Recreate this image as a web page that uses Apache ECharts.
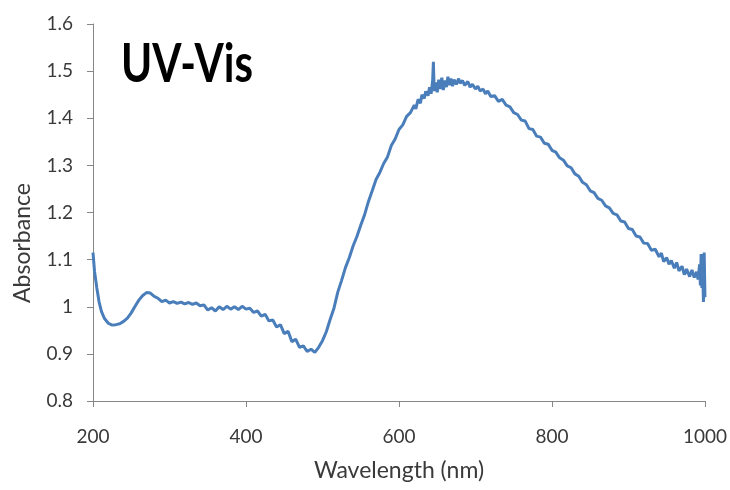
<!DOCTYPE html>
<html>
<head>
<meta charset="utf-8">
<script src="https://cdn.jsdelivr.net/npm/echarts@6/dist/echarts.min.js"></script>
<style>
  html, body { margin: 0; padding: 0; background: #fff; }
  #chart { width: 730px; height: 490px; }
</style>
</head>
<body>
<div id="chart"></div>
<script>
// [wavelength nm, absorbance]
const uvRegion = [
  [200, 1.115], [202, 1.075], [205, 1.04], [208, 1.01], [211, 0.99], [215, 0.975],
  [220, 0.965], [225, 0.961], [230, 0.962], [235, 0.964], [240, 0.969], [245, 0.976],
  [250, 0.987], [255, 1.001], [260, 1.014], [265, 1.024], [270, 1.030], [275, 1.029],
  [280, 1.022]
]
const shoulderRegion = [
  [285, 1.018], [290, 1.011], [295, 1.014], [300, 1.008], [305, 1.011], [310, 1.007],
  [315, 1.010], [320, 1.006], [325, 1.009], [330, 1.005], [335, 1.008], [340, 1.002],
  [345, 1.004], [350, 0.993], [355, 0.998], [360, 0.991], [365, 1.000], [370, 0.994],
  [375, 1.001], [380, 0.995], [385, 1.000], [390, 0.994], [395, 1.001], [400, 0.995],
  [405, 0.997], [410, 0.988], [415, 0.991], [420, 0.980], [425, 0.984], [430, 0.970],
  [435, 0.972], [440, 0.957], [445, 0.962], [450, 0.943], [455, 0.948], [460, 0.926],
  [465, 0.931], [470, 0.914], [475, 0.917], [480, 0.905], [485, 0.910], [490, 0.903],
  [495, 0.914]
]
const riseRegion = [
  [500, 0.928], [505, 0.947], [510, 0.973], [515, 0.997], [520, 1.031], [525, 1.056],
  [530, 1.083], [535, 1.104], [540, 1.129], [545, 1.149], [550, 1.173], [555, 1.195],
  [560, 1.223], [565, 1.246], [570, 1.270], [575, 1.285], [580, 1.304], [585, 1.318],
  [590, 1.342], [595, 1.356], [600, 1.376], [605, 1.386], [610, 1.404], [615, 1.412],
  [620, 1.428]
]
const peakRegion = [
  [622, 1.420], [625, 1.440], [628, 1.432], [630, 1.450], [633, 1.442], [635, 1.457],
  [638, 1.448], [640, 1.466], [642, 1.452], [644, 1.480], [645, 1.520], [646, 1.458],
  [648, 1.476], [650, 1.455], [652, 1.482], [654, 1.462], [656, 1.486], [658, 1.460],
  [660, 1.480], [662, 1.466], [664, 1.488], [666, 1.470], [668, 1.484], [670, 1.468],
  [672, 1.482], [675, 1.472], [678, 1.484], [680, 1.474], [683, 1.480], [686, 1.470],
  [690, 1.478], [693, 1.466], [696, 1.472], [700, 1.462], [703, 1.468], [706, 1.458],
  [710, 1.462], [713, 1.452], [716, 1.458], [720, 1.446]
]
const tailRegion = [
  [725, 1.448], [730, 1.436], [735, 1.440], [740, 1.428], [745, 1.424], [750, 1.412],
  [755, 1.408], [760, 1.396], [765, 1.394], [770, 1.378], [775, 1.376], [780, 1.362],
  [785, 1.360], [790, 1.347], [795, 1.345], [800, 1.332], [805, 1.328], [810, 1.316],
  [815, 1.311], [820, 1.299], [825, 1.295], [830, 1.282], [835, 1.277], [840, 1.264],
  [845, 1.259], [850, 1.246], [855, 1.242], [860, 1.230], [865, 1.226], [870, 1.214],
  [875, 1.210], [880, 1.198], [885, 1.195], [890, 1.182], [895, 1.180], [900, 1.166],
  [905, 1.164], [910, 1.150], [915, 1.148], [920, 1.135], [925, 1.134], [930, 1.120],
  [935, 1.122], [940, 1.106], [943, 1.114], [946, 1.096], [950, 1.104], [953, 1.090],
  [956, 1.098], [960, 1.082], [963, 1.094], [966, 1.076], [970, 1.086], [973, 1.068],
  [976, 1.080], [980, 1.064], [983, 1.078], [986, 1.062], [989, 1.074], [991, 1.058],
  [993, 1.090], [994, 1.045], [995, 1.112], [996, 1.040], [997, 1.080], [998, 1.010],
  [999, 1.115], [1000, 1.02]
]
const xTicks = [200, 400, 600, 800, 1000]
const yTicks = [0.8, 0.9, 1, 1.1, 1.2, 1.3, 1.4, 1.5, 1.6]

const spectrum = [].concat(uvRegion, shoulderRegion, riseRegion, peakRegion, tailRegion)

const font = 'Lato, "Open Sans", sans-serif'
const axisGray = '#868686'
const textColor = '#3a3a3a'

const chart = echarts.init(document.getElementById('chart'), null, { renderer: 'canvas' })

chart.setOption({
  animation: false,
  backgroundColor: '#fff',
  grid: { left: 93, right: 23, top: 24, bottom: 89 },
  xAxis: {
    type: 'value',
    min: xTicks[0],
    max: xTicks[xTicks.length - 1],
    interval: xTicks[1] - xTicks[0],
    name: 'Wavelength (nm)',
    nameLocation: 'middle',
    nameGap: 58,
    nameTextStyle: { fontFamily: font, fontSize: 23, color: textColor },
    axisLine: { lineStyle: { color: axisGray, width: 1 } },
    axisTick: { show: true, length: 6, lineStyle: { color: axisGray } },
    axisLabel: {
      margin: 26,
      fontFamily: font,
      fontSize: 19,
      color: textColor,
      formatter: v => String(v)
    },
    splitLine: { show: false }
  },
  yAxis: {
    type: 'value',
    min: yTicks[0],
    max: yTicks[yTicks.length - 1],
    interval: 0.1,
    axisLine: { show: true, lineStyle: { color: axisGray, width: 1 } },
    axisTick: { show: true, length: 6, lineStyle: { color: axisGray } },
    axisLabel: {
      margin: 20,
      fontFamily: font,
      fontSize: 19,
      color: textColor,
      formatter: v => String(Math.round(v * 10) / 10)
    },
    splitLine: { show: false }
  },
  graphic: [{
    type: 'text',
    x: 23,
    y: 243,
    rotation: Math.PI / 2,
    style: {
      text: 'Absorbance',
      fontFamily: font,
      fontSize: 23,
      fill: textColor,
      textAlign: 'center',
      textVerticalAlign: 'middle'
    }
  }, {
    type: 'text',
    x: 121,
    y: 65,
    scaleX: 0.78,
    style: {
      text: 'UV-Vis',
      fontFamily: font,
      fontWeight: 'bold',
      fontSize: 54,
      fill: '#000',
      textAlign: 'left',
      textVerticalAlign: 'middle'
    }
  }],
  series: [{
    type: 'line',
    data: spectrum,
    showSymbol: false,
    symbol: 'none',
    smooth: false,
    lineStyle: { color: '#4a7ebb', width: 3 },
    clip: true
  }]
})
</script>
</body>
</html>
